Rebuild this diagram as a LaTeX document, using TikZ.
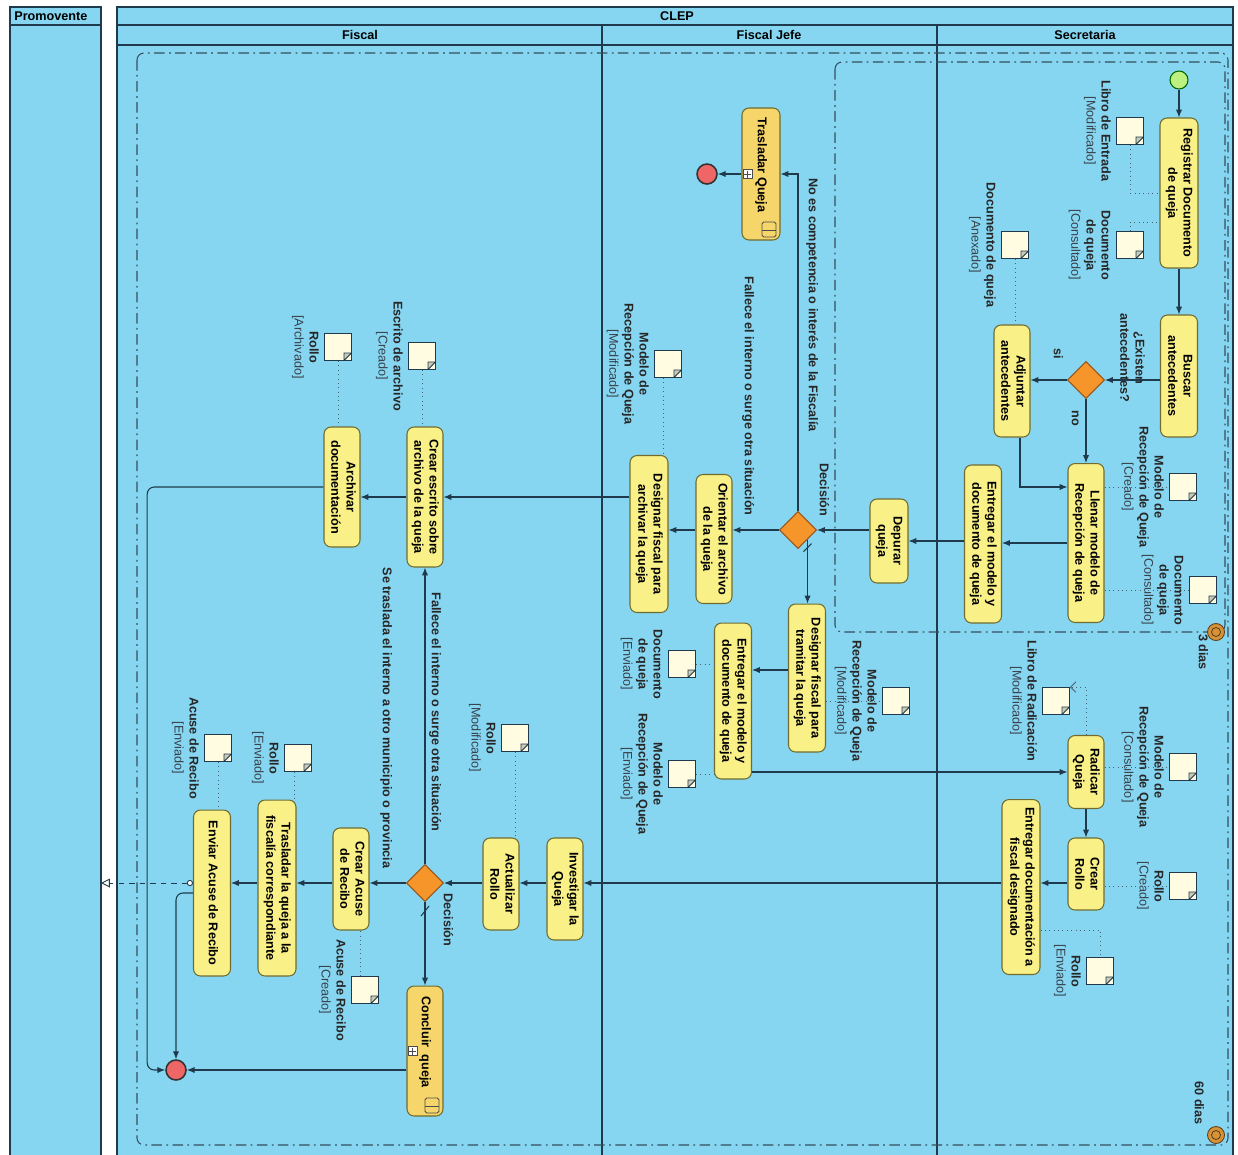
\documentclass[tikz,border=0pt]{standalone}
\usepackage{fontspec}
\setmainfont{Liberation Sans}
\usepackage{xcolor}
\usepackage{graphicx}
\usepackage{tikz}
\usetikzlibrary{shapes.geometric}
\usetikzlibrary{shapes.misc}
\usetikzlibrary{arrows.meta}
\usetikzlibrary{positioning}
\definecolor{lanebg}{RGB}{135,214,241}
\definecolor{lineblue}{RGB}{30,58,76}
\definecolor{actfill}{RGB}{249,240,136}
\definecolor{actdraw}{RGB}{112,108,46}
\definecolor{subfill}{RGB}{246,214,106}
\definecolor{decfill}{RGB}{246,150,42}
\definecolor{decdraw}{RGB}{150,85,25}
\definecolor{startfill}{RGB}{190,240,128}
\definecolor{endfill}{RGB}{238,102,102}
\definecolor{objfill}{RGB}{255,252,226}
\definecolor{statecol}{RGB}{55,65,75}
\definecolor{timerfill}{RGB}{214,146,52}

\newcommand{\rottext}[1]{\rotatebox{-90}{\begin{tabular}{@{}c@{}}#1\end{tabular}}}
\newcommand{\objstate}[1]{{\mdseries\color{statecol}#1}}

\begin{document}
\begin{tikzpicture}[x=0.02cm, y=-0.02cm, >={Latex[length=4.5pt,width=3.6pt]},
	font=\fontsize{7.2}{8.6}\selectfont\bfseries,
	act node/.style={rectangle, rounded corners=4pt, draw=actdraw, fill=actfill, line width=0.6pt, inner sep=0pt},
	sub node/.style={act node, fill=subfill, path picture={
		\draw[black!70, fill=white, line width=0.4pt, sharp corners] ([shift={(0.02cm,-0.09cm)}]path picture bounding box.west) rectangle ++(0.18cm,0.18cm);
		\draw[black!70, line width=0.4pt] ([shift={(0.11cm,-0.07cm)}]path picture bounding box.west) -- ++(0cm,0.14cm) ([shift={(0.04cm,0cm)}]path picture bounding box.west) -- ++(0.14cm,0cm);
		\draw[black!70, line width=0.5pt, rounded corners=1pt] ([shift={(-0.36cm,0.06cm)}]path picture bounding box.south east) rectangle ++(0.28cm,0.3cm);
		\draw[black!70, line width=0.4pt] ([shift={(-0.36cm,0.2cm)}]path picture bounding box.south east) -- ++(0.28cm,0cm);}},
	dec node/.style={diamond, aspect=1, draw=decdraw, fill=decfill, minimum size=0.74cm, inner sep=0pt, line width=0.6pt},
	start node/.style={circle, draw=green!40!black, fill=startfill, minimum size=0.36cm, inner sep=0pt, line width=0.6pt},
	end node/.style={circle, draw=black!80, fill=endfill, minimum size=0.4cm, inner sep=0pt, line width=0.9pt},
	obj node/.style={chamfered rectangle, chamfered rectangle corners=south east, chamfered rectangle xsep=0.15cm, chamfered rectangle ysep=0.15cm, draw=lineblue, fill=objfill, line width=0.5pt, minimum width=0.54cm, minimum height=0.54cm, inner sep=0pt,
		path picture={\draw[lineblue, fill=objfill!80!black, line width=0.5pt] ([yshift=0.15cm]path picture bounding box.south east) -- ([shift={(-0.15cm,0.15cm)}]path picture bounding box.south east) -- ([xshift=-0.15cm]path picture bounding box.south east) -- cycle;}},
	obj text/.style={inner sep=0pt, text=black!85},
	edge text/.style={inner sep=0pt, text=black!85},
	flow/.style={->, draw=lineblue, line width=0.6pt},
	obj line/.style={draw=lineblue!80, dotted, line width=0.5pt},
	msg line/.style={draw=lineblue, dashed, line width=0.5pt, {Circle[open,fill=white,length=3.5pt]}-{Triangle[open,fill=white,length=5pt,width=5pt]}},
	lane/.style={draw=lineblue, fill=lanebg, line width=0.8pt},
	region/.style={draw=lineblue!90, line width=0.6pt, dash pattern=on 6pt off 2.5pt on 1pt off 2.5pt, rounded corners=4pt},
	timer/.style={circle, draw=brown!50!black, fill=timerfill, minimum size=0.34cm, inner sep=0pt, line width=0.5pt,
		path picture={\draw[brown!40!black, line width=0.4pt] (path picture bounding box.center) circle (0.09cm);}}]
	\useasboundingbox (0,0) rectangle (1238,1154);
	\clip (0,0) rectangle (1238,1154);
	
	% Pools and lanes
	\draw[lane] (10,7) rectangle (101,1170);
	\draw[lane] (117,7) rectangle (1233,1170);
	\draw[lineblue, line width=0.8pt] (10,25) -- (101,25) (117,25) -- (1233,25) (117,45) -- (1233,45)
		(602,25) -- (602,1170) (937,25) -- (937,1170);
	\node[anchor=west, inner sep=0pt] (70) at (14,16) {Promovente};
	\node (71) at (677,16) {CLEP};
	\node (72) at (360,35) {Fiscal};
	\node (73) at (769,35) {Fiscal Jefe};
	\node (74) at (1085,35) {Secretaria};
	
	\draw[region] (137,53) rectangle (1228,1145);
	\draw[region] (835,62) rectangle (1225,632);
	\node[timer] (86) at (1216,632) {};
	\node[timer] (87) at (1216,1135) {};
	\node[edge text] (84) at (1202,652) {\rottext{3 dias}};
	\node[edge text] (85) at (1198,1103) {\rottext{60 dias}};
	
	% Nodes: Secretaria
	\node[start node] (1) at (1179,80) {};
	\node[act node, minimum width=0.76cm, minimum height=3cm] (2) at (1179,193) {\rottext{Registrar Documento\\de queja}};
	\node[act node, minimum width=0.74cm, minimum height=2.44cm] (3) at (1179,376) {\rottext{Buscar\\antecedentes}};
	\node[dec node] (4) at (1086,380) {};
	\node[act node, minimum width=0.72cm, minimum height=2.24cm] (5) at (1012,381) {\rottext{Adjuntar\\antecedentes}};
	\node[act node, minimum width=0.72cm, minimum height=3.18cm] (6) at (1086,543) {\rottext{Llenar modelo de\\Recepción de queja}};
	\node[act node, minimum width=0.74cm, minimum height=3.16cm] (7) at (983,544) {\rottext{Entregar el modelo y\\documento de queja}};
	\node[act node, minimum width=0.72cm, minimum height=1.46cm] (8) at (1086,772) {\rottext{Radicar\\Queja}};
	\node[act node, minimum width=0.72cm, minimum height=1.44cm] (9) at (1086,874) {\rottext{Crear\\Rollo}};
	\node[act node, minimum width=0.76cm, minimum height=3.5cm] (10) at (1021,887) {\rottext{Entregar documentación a\\fiscal designado}};
	
	% Nodes: Fiscal Jefe
	\node[act node, minimum width=0.76cm, minimum height=1.68cm] (11) at (889,541) {\rottext{Depurar\\queja}};
	\node[dec node] (12) at (798,530) {};
	\node[sub node, minimum width=0.76cm, minimum height=2.64cm] (13) at (761,174) {\rottext{Trasladar Queja\hspace*{0.36cm}}};
	\node[end node] (14) at (707,174) {};
	\node[act node, minimum width=0.72cm, minimum height=2.58cm] (15) at (714,539) {\rottext{Orientar el archivo\\de la queja}};
	\node[act node, minimum width=0.76cm, minimum height=3.14cm] (16) at (649,534) {\rottext{Designar fiscal para\\archivar la queja}};
	\node[act node, minimum width=0.74cm, minimum height=2.96cm] (17) at (807,678) {\rottext{Designar fiscal para\\tramitar la queja}};
	\node[act node, minimum width=0.74cm, minimum height=3.12cm] (18) at (733,701) {\rottext{Entregar el modelo y\\documento de queja}};
	
	% Nodes: Fiscal
	\node[act node, minimum width=0.72cm, minimum height=2.8cm] (19) at (425,497) {\rottext{Crear escrito sobre\\archivo de la queja}};
	\node[act node, minimum width=0.72cm, minimum height=2.4cm] (20) at (342,487) {\rottext{Archivar\\documentación}};
	\node[act node, minimum width=0.72cm, minimum height=2.04cm] (21) at (565,889) {\rottext{Investigar la\\Queja}};
	\node[act node, minimum width=0.72cm, minimum height=1.84cm] (22) at (501,884) {\rottext{Actualizar\\Rollo}};
	\node[dec node] (23) at (425,883) {};
	\node[act node, minimum width=0.72cm, minimum height=2.04cm] (24) at (351,879) {\rottext{Crear Acuse\\de Recibo}};
	\node[act node, minimum width=0.76cm, minimum height=3.52cm] (25) at (277,888) {\rottext{Trasladar la queja a la\\fiscalía correspondiante}};
	\node[act node, minimum width=0.74cm, minimum height=3.32cm] (26) at (212,893) {\rottext{Enviar Acuse de Recibo}};
	\node[sub node, minimum width=0.72cm, minimum height=2.6cm] (27) at (425,1051) {\rottext{Concluir\ \ queja\hspace*{0.36cm}}};
	\node[end node] (28) at (176,1070) {};
	\coordinate (50) at (101,883);
	
	% Data objects
	\node[obj node] (31) at (1130,131) {};
	\node[obj node] (32) at (1130,245) {};
	\node[obj node] (33) at (1015,245) {};
	\node[obj node] (34) at (1183,487) {};
	\node[obj node] (35) at (1203,590) {};
	\node[obj node] (36) at (1183,767) {};
	\node[obj node] (37) at (1056,701) {};
	\node[obj node] (38) at (1183,886) {};
	\node[obj node] (39) at (1100,971) {};
	\node[obj node] (40) at (896,701) {};
	\node[obj node] (41) at (682,664) {};
	\node[obj node] (42) at (682,774) {};
	\node[obj node] (43) at (668,364) {};
	\node[obj node] (44) at (422,356) {};
	\node[obj node] (45) at (338,347) {};
	\node[obj node] (46) at (515,738) {};
	\node[obj node] (47) at (365,990) {};
	\node[obj node] (48) at (298,758) {};
	\node[obj node] (49) at (218,748) {};
	
	\node[obj text, left=2pt of 31] (51) {\rottext{Libro de Entrada\\\objstate{[Modificado]}}};
	\node[obj text, left=2pt of 32] (52) {\rottext{Documento\\de queja\\\objstate{[Consultado]}}};
	\node[obj text, left=2pt of 33] (53) {\rottext{Documento de queja\\\objstate{[Anexado]}}};
	\node[obj text, left=2pt of 34] (54) {\rottext{Modelo de\\Recepción de Queja\\\objstate{[Creado]}}};
	\node[obj text, left=2pt of 35] (55) {\rottext{Documento\\de queja\\\objstate{[Consultado]}}};
	\node[obj text, left=2pt of 36] (56) {\rottext{Modelo de\\Recepción de Queja\\\objstate{[Consultado]}}};
	\node[obj text, left=2pt of 37] (57) {\rottext{Libro de Radicación\\\objstate{[Modificado]}}};
	\node[obj text, left=2pt of 38] (58) {\rottext{Rollo\\\objstate{[Creado]}}};
	\node[obj text, left=2pt of 39] (59) {\rottext{Rollo\\\objstate{[Enviado]}}};
	\node[obj text, left=2pt of 40] (60) {\rottext{Modelo de\\Recepción de Queja\\\objstate{[Modificado]}}};
	\node[obj text, left=2pt of 41] (61) {\rottext{Documento\\de queja\\\objstate{[Enviado]}}};
	\node[obj text, left=2pt of 42] (62) {\rottext{Modelo de\\Recepción de Queja\\\objstate{[Enviado]}}};
	\node[obj text, left=2pt of 43] (63) {\rottext{Modelo de\\Recepción de Queja\\\objstate{[Modificado]}}};
	\node[obj text, left=2pt of 44] (64) {\rottext{Escrito de archivo\\\objstate{[Creado]}}};
	\node[obj text, left=2pt of 45] (65) {\rottext{Rollo\\\objstate{[Archivado]}}};
	\node[obj text, left=2pt of 46] (66) {\rottext{Rollo\\\objstate{[Modificado]}}};
	\node[obj text, left=2pt of 47] (67) {\rottext{Acuse de Recibo\\\objstate{[Creado]}}};
	\node[obj text, left=2pt of 48] (68) {\rottext{Rollo\\\objstate{[Enviado]}}};
	\node[obj text, left=2pt of 49] (69) {\rottext{Acuse de Recibo\\\objstate{[Enviado]}}};
	
	% Guard labels
	\node[edge text] (75) at (1131,358) {\rottext{¿Existen\\antecedentes?}};
	\node[edge text] (76) at (1057,354) {\rottext{si}};
	\node[edge text] (77) at (1075,418) {\rottext{no}};
	\node[edge text] (78) at (823,490) {\rottext{Decisión}};
	\node[edge text] (79) at (812,305) {\rottext{No es competencia o interés de la Fiscalía}};
	\node[edge text] (80) at (748,396) {\rottext{Fallece el interno o surge otra situación}};
	\node[edge text] (81) at (447,920) {\rottext{Decisión}};
	\node[edge text] (82) at (435,712) {\rottext{Fallece el interno o surge otra situación}};
	\node[edge text] (83) at (386,718) {\rottext{Se traslada el interno a otro municipio o provincia}};
	
	% Flows
	\draw[flow] (1) -- (2);
	\draw[flow] (2) -- (3);
	\draw[flow] (3.west |- 4) -- (4.east);
	\draw[flow] (4.west) -- (5.east |- 4);
	\draw[flow] (4.south) -- (6.north);
	\draw[flow] ([xshift=0.16cm]5.south) |- (34 -| 6.west);
	\draw[flow] (6.west) -- (7.east |- 6);
	\draw[flow] (7.west |- 11) -- (11.east);
	\draw[flow] (8) -- (9);
	\draw[flow] (9.west |- 23) -- (10.east |- 23);
	\draw[flow] (10.west |- 23) -- (21.east |- 23);
	
	\draw[flow] (11.west |- 12) -- (12.east);
	\draw[flow] (12.north) |- (13.east);
	\draw[flow] (13.west) -- (14.east);
	\draw[flow] (12.west) -- (15.east |- 12);
	\draw[flow] (15.west |- 12) -- (16.east |- 12);
	\draw[flow] (16.west |- 19) -- (19.east);
	\draw[flow] (12.south east) -- (12.south east |- 17.north);
	\draw[lineblue, line width=0.6pt] ([shift={(-4,12)}]12.south east) -- ([shift={(4,4)}]12.south east);
	\draw[flow] ([yshift=0.16cm]17.west) -- ([yshift=0.16cm]18.east |- 17.west);
	\draw[flow] (18.east |- 8) -- (8.west);
	
	\draw[flow] (19.west) -- (20.east |- 19);
	\draw[flow, rounded corners=4pt] (20.west) -| ([xshift=-0.36cm]28.west) -- (28.west);
	\draw[flow] (21.west |- 23) -- (22.east |- 23);
	\draw[flow] (22.west |- 23) -- (23.east);
	\draw[flow] (23.north) -- (19.south);
	\draw[flow] (23.west) -- (24.east |- 23);
	\draw[flow] (24.west |- 23) -- (25.east |- 23);
	\draw[flow] (25.west |- 23) -- (26.east |- 23);
	\draw[flow] (23.south) -- (27.north);
	\draw[lineblue, line width=0.6pt] ([shift={(-4,14)}]23.south) -- ([shift={(4,4)}]23.south);
	\draw[flow, rounded corners=4pt] (26.west) -| (28.north);
	\draw[flow] (27.west |- 28) -- (28.east);
	\draw[msg line] (26.west |- 23) -- (50);
	
	% Object links
	\draw[obj line] (31.south) |- (2.west);
	\draw[obj line] (32.north) |- ([yshift=-0.58cm]2.west);
	\draw[obj line] (33.south) -- (33.south |- 5.north);
	\draw[obj line] (6.east |- 34) -- (34.west);
	\draw[obj line] (6.east |- 35) -- (35.west);
	\draw[obj line] (8.east |- 36) -- (36.west);
	\draw[obj line, -{Straight Barb[length=3pt]}] (8.north) |- (37.north east);
	\draw[obj line] (9.east |- 38) -- (38.west);
	\draw[obj line] ([yshift=-0.86cm]10.east) -| (39.north);
	\draw[obj line] (17.east |- 40) -- (40.west);
	\draw[obj line] (41.east) -- (41.east -| 18.west);
	\draw[obj line] (42.east) -- (42.east -| 18.west);
	\draw[obj line] ([xshift=-0.1cm]43.south) -- ([xshift=-0.1cm]43.south |- 16.north);
	\draw[obj line] (44.south) -- (44.south |- 19.north);
	\draw[obj line] (45.south) -- (45.south |- 20.north);
	\draw[obj line] (46.south) -- (46.south |- 22.north);
	\draw[obj line] ([xshift=-0.1cm]47.north) -- ([xshift=-0.1cm]47.north |- 24.south);
	\draw[obj line] ([xshift=-0.08cm]48.south) -- ([xshift=-0.08cm]48.south |- 25.north);
	\draw[obj line] (49.south) -- (49.south |- 26.north);
\end{tikzpicture}
\end{document}
